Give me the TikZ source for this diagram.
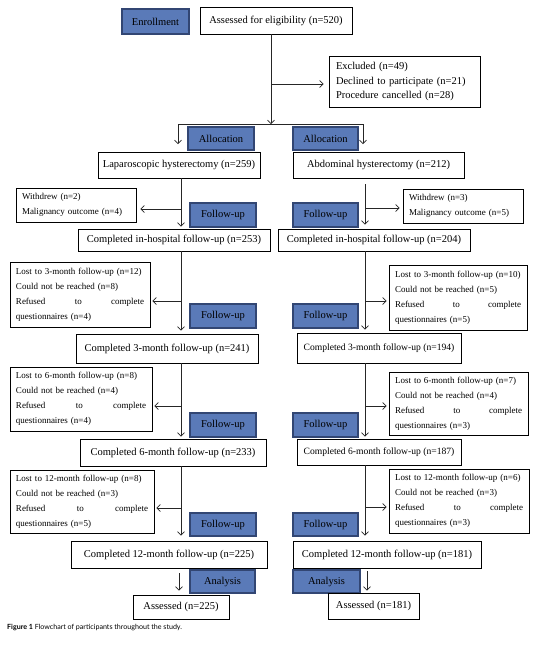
\documentclass[tikz,border=0pt]{standalone}
\usepackage{fontspec}
\setmainfont{Liberation Serif}
\newfontfamily\capfont{Lato}
\usetikzlibrary{arrows.meta}
\definecolor{bluefill}{RGB}{90,122,184}
\definecolor{blueedge}{RGB}{50,70,115}
\newcommand\placebox[8][]{%
  \node[#2, #1, minimum width={(#6-#4)*1pt}, minimum height={(#7-#5)*1pt}] (#3) at ({(#4+#6)/2},{(#5+#7)/2}) {#8};}
\begin{document}
\begin{tikzpicture}[x=1pt,y=-1pt,
  plain/.style={draw=black, line width=0.8pt, inner sep=0pt, font=\fontsize{10.5}{14}\selectfont},
  plainsm/.style={plain, font=\fontsize{9.6}{13}\selectfont},
  stage/.style={draw=blueedge, fill=bluefill, line width=1.6pt, inner sep=0pt, font=\fontsize{10.5}{12}\selectfont},
  side/.style={draw=black, line width=0.8pt, inner xsep=6pt, inner ysep=0pt, align=left, font=\fontsize{9}{15}\selectfont},
  excl/.style={draw=black, line width=0.8pt, inner xsep=7pt, inner ysep=0pt, align=left, font=\fontsize{10.5}{14.5}\selectfont},
  conn/.style={draw=black!85, line width=0.7pt},
  arr/.style={conn, -{Straight Barb[length=3.5pt,width=7pt]}}]
\useasboundingbox (0,0) rectangle (540,649);
\fill[white] (0,0) rectangle (540,649);

% column coordinates
\coordinate (colL) at (181,0);
\coordinate (colR) at (365,0);

% top
\placebox{stage}{enr}{122}{9}{189}{34}{Enrollment}
\placebox{plain}{assess}{200}{7}{352}{34}{Assessed for eligibility (n=520)}
\placebox[text width=137pt]{excl}{exclu}{329}{56}{480}{107}{Excluded (n=49)\\Declined to participate (n=21)\\Procedure cancelled (n=28)}

\coordinate (exJ) at (271,84);
\coordinate (splitC) at (271,124);
\coordinate (splitL) at (178,124);
\coordinate (splitR) at (363,124);
\coordinate (allocEndL) at (178,144);
\coordinate (allocEndR) at (363,144);
\draw[arr] (assess.south -| splitC) -- (splitC);
\draw[arr, shorten >=5pt] (exJ) -- (exclu.west |- exJ);
\draw[conn] (splitL) -- (splitR);
\draw[arr] (splitL) -- (allocEndL);
\draw[arr] (splitR) -- (allocEndR);

\placebox{stage}{allocL}{188}{127}{254}{150}{Allocation}
\placebox{stage}{allocR}{293}{127}{358}{150}{Allocation}
\placebox{plain}{lap}{98}{152}{260}{178}{Laparoscopic hysterectomy (n=259)}
\placebox{plain}{abd}{293}{152}{464}{178}{Abdominal hysterectomy (n=212)}

% tier 1
\placebox[text width=108pt]{side}{wdL}{16}{188}{136}{222}{Withdrew (n=2)\\Malignancy outcome (n=4)}
\placebox[text width=108pt]{side}{wdR}{403}{189}{523}{223}{Withdrew (n=3)\\Malignancy outcome (n=5)}
\placebox{stage}{fuL1}{190}{203}{256}{227}{Follow-up}
\placebox{stage}{fuR1}{293}{203}{358}{227}{Follow-up}
\placebox{plain}{hospL}{78}{229}{270}{251}{Completed in-hospital follow-up (n=253)}
\placebox{plain}{hospR}{278}{229}{470}{251}{Completed in-hospital follow-up (n=204)}
\coordinate (j1L) at (181,209);
\coordinate (j1R) at (365,208);
\draw[arr, shorten >=2pt] (lap.south -| colL) -- (hospL.north -| colL);
\draw[arr, shorten >=4pt] (j1L) -- (wdL.east |- j1L);
\draw[arr, shorten <=6pt, shorten >=4pt] (abd.south -| colR) -- (hospR.north -| colR);
\draw[arr, shorten >=3pt] (j1R) -- (wdR.west |- j1R);

% tier 2
\placebox[text width=128pt]{side}{l3L}{10}{262}{150}{327}{Lost to 3-month follow-up (n=12)\\Could not be reached (n=8)\\Refused\hfill to\hfill complete\\questionnaires (n=4)}
\placebox[text width=126pt]{side}{l3R}{389}{265}{527}{330}{Lost to 3-month follow-up (n=10)\\Could not be reached (n=5)\\Refused\hfill to\hfill complete\\questionnaires (n=5)}
\placebox{stage}{fuL2}{190}{304}{256}{328}{Follow-up}
\placebox{stage}{fuR2}{293}{304}{358}{328}{Follow-up}
\placebox{plain}{c3L}{76}{334}{258}{363}{Completed 3-month follow-up (n=241)}
\placebox{plainsm}{c3R}{297}{333}{461}{363}{Completed 3-month follow-up (n=194)}
\coordinate (j2L) at (181,301);
\coordinate (j2R) at (365,301);
\draw[arr, shorten >=3pt] (hospL.south -| colL) -- (c3L.north -| colL);
\draw[arr, shorten >=2pt] (j2L) -- (l3L.east |- j2L);
\draw[arr, shorten >=3pt] (hospR.south -| colR) -- (c3R.north -| colR);
\draw[arr, shorten >=2pt] (j2R) -- (l3R.west |- j2R);

% tier 3
\placebox[text width=130pt]{side}{l6L}{10}{367}{152}{431}{Lost to 6-month follow-up (n=8)\\Could not be reached (n=4)\\Refused\hfill to\hfill complete\\questionnaires (n=4)}
\placebox[text width=127pt]{side}{l6R}{389}{372}{528}{435}{Lost to 6-month follow-up (n=7)\\Could not be reached (n=4)\\Refused\hfill to\hfill complete\\questionnaires (n=3)}
\placebox{stage}{fuL3}{190}{413}{256}{437}{Follow-up}
\placebox{stage}{fuR3}{293}{413}{358}{437}{Follow-up}
\placebox{plain}{c6L}{80}{439}{266}{466}{Completed 6-month follow-up (n=233)}
\placebox{plainsm}{c6R}{297}{439}{461}{465}{Completed 6-month follow-up (n=187)}
\coordinate (j3L) at (181,406);
\coordinate (j3R) at (365,406);
\draw[arr, shorten >=2pt] (c3L.south -| colL) -- (c6L.north -| colL);
\draw[arr, shorten >=2pt] (j3L) -- (l6L.east |- j3L);
\draw[arr, shorten >=2pt] (c3R.south -| colR) -- (c6R.north -| colR);
\draw[arr, shorten >=2pt] (j3R) -- (l6R.west |- j3R);

% tier 4
\placebox[text width=132pt]{side}{l12L}{10}{470}{154}{533}{Lost to 12-month follow-up (n=8)\\Could not be reached (n=3)\\Refused\hfill to\hfill complete\\questionnaires (n=5)}
\placebox[text width=128pt]{side}{l12R}{389}{469}{529}{533}{Lost to 12-month follow-up (n=6)\\Could not be reached (n=3)\\Refused\hfill to\hfill complete\\questionnaires (n=3)}
\placebox{stage}{fuL4}{190}{513}{256}{536}{Follow-up}
\placebox{stage}{fuR4}{293}{513}{358}{536}{Follow-up}
\placebox{plain}{c12L}{71}{541}{267}{568}{Completed 12-month follow-up (n=225)}
\placebox{plain}{c12R}{293}{541}{481}{568}{Completed 12-month follow-up (n=181)}
\coordinate (j4L) at (181,508);
\coordinate (j4R) at (365,507);
\draw[arr, shorten >=5pt] (c6L.south -| colL) -- (c12L.north -| colL);
\draw[arr, shorten >=2pt] (j4L) -- (l12L.east |- j4L);
\draw[arr, shorten >=5pt] (c6R.south -| colR) -- (c12R.north -| colR);
\draw[arr, shorten >=2pt] (j4R) -- (l12R.west |- j4R);

% analysis
\placebox{stage}{anL}{190}{570}{255}{593}{Analysis}
\placebox{stage}{anR}{293}{570}{360}{593}{Analysis}
\placebox{plain}{asL}{133}{595}{229}{619}{Assessed (n=225)}
\placebox{plain}{asR}{328}{593}{419}{619}{Assessed (n=181)}
\coordinate (aL) at (179,573);
\coordinate (aR) at (367,571);
\draw[arr, shorten >=4pt] (aL) -- (asL.north -| aL);
\draw[arr, shorten >=2pt] (aR) -- (asR.north -| aR);

% caption
\node[anchor=west, inner sep=0pt, font=\capfont\fontsize{7.1}{8}\selectfont] (cap) at (7,628) {\textbf{Figure 1} Flowchart of participants throughout the study.};
\end{tikzpicture}
\end{document}
